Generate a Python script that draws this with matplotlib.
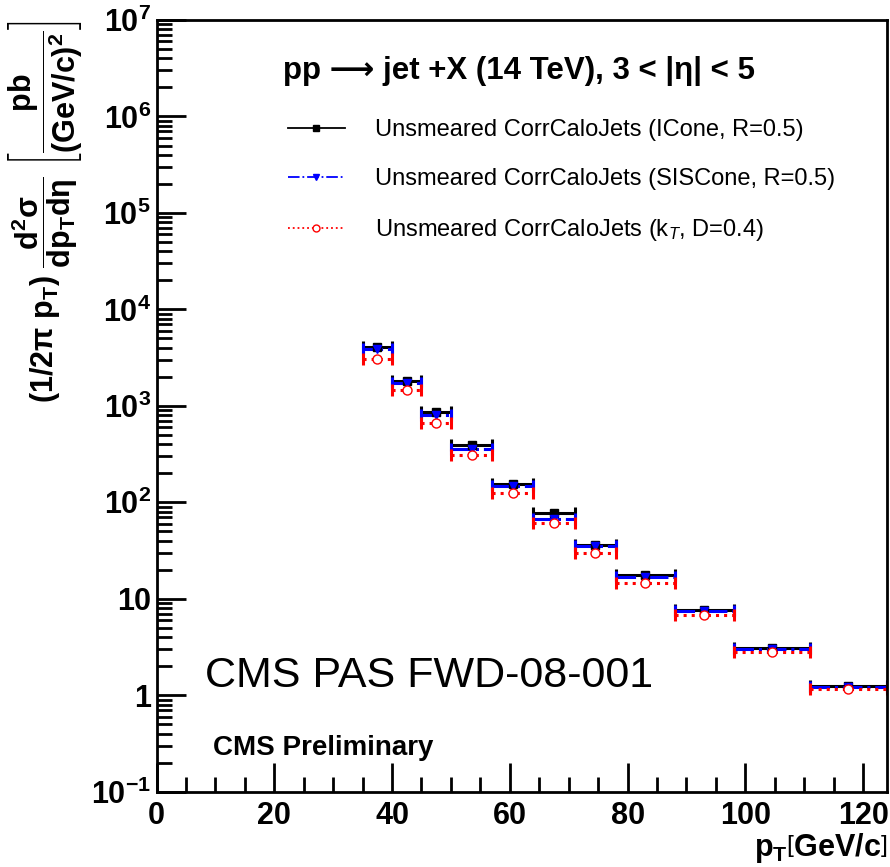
import numpy as np
import matplotlib
matplotlib.use("Agg")
import matplotlib.pyplot as plt
from matplotlib.lines import Line2D

plt.rcParams["font.family"] = ["Liberation Sans", "DejaVu Sans"]
plt.rcParams["mathtext.fontset"] = "custom"
plt.rcParams["mathtext.rm"] = "Liberation Sans"
plt.rcParams["mathtext.bf"] = "Liberation Sans:bold"
plt.rcParams["mathtext.it"] = "Liberation Sans:italic"

# --- data -------------------------------------------------------------------
bin_edges = [35, 40, 45, 50, 57, 64, 71, 78, 88, 98, 111, 124]
icone = [4100, 1795, 863, 393, 154, 76.9, 36.3, 17.5, 7.64, 3.09, 1.25]
siscone = [3855, 1713, 809, 360, 148, 66.7, 35.0, 16.7, 7.41, 2.99, 1.22]
kt = [3035, 1460, 659, 307, 126, 61.5, 30.0, 14.7, 6.79, 2.81, 1.16]

labels = ["Unsmeared CorrCaloJets (ICone, R=0.5)",
          "Unsmeared CorrCaloJets (SISCone, R=0.5)",
          r"Unsmeared CorrCaloJets (k$_{T}$, D=0.4)"]
colors = ["black", "#0000ff", "#ff0000"]
markers = ["s", "v", "o"]
styles = ["-", "-.", ":"]

edges = np.array(bin_edges, dtype=float)
centres = 0.5 * (edges[:-1] + edges[1:])
half = 0.5 * (edges[1:] - edges[:-1])

fig = plt.figure(figsize=(8.9, 8.67), dpi=100)
ax = fig.add_axes([156.5 / 890, 1 - 791.7 / 867, (886.7 - 156.5) / 890, (791.7 - 20) / 867])

handles = []
for ys, c, m, ls in zip([icone, siscone, kt], colors, markers, styles):
    mfc = "white" if m == "o" else c
    eb = ax.errorbar(centres, ys, xerr=half, fmt=m, color=c, mfc=mfc, mec=c,
                     ms=5.5 if m != "o" else 6.5, ecolor=c, elinewidth=2.2,
                     capsize=4.5, capthick=2.2, linestyle="none")
    eb[2][0].set_linestyle(ls)
    handles.append(Line2D([], [], color=c, ls=ls, lw=1.3, marker=m, mfc=mfc,
                          mec=c, ms=5))

ax.set_yscale("log")
ax.set_xlim(0, 124)
ax.set_ylim(1e-1, 1e7)

ax.set_xticks(np.arange(0, 121, 20))
ax.set_xticks(np.arange(0, 124, 5), minor=True)
ax.set_xticklabels([str(v) for v in range(0, 121, 20)])
ydec = [1e-1, 1, 10, 1e2, 1e3, 1e4, 1e5, 1e6, 1e7]
ylab = [r"$\mathbf{10^{-1}}$", "1", "10", r"$\mathbf{10^{2}}$", r"$\mathbf{10^{3}}$",
        r"$\mathbf{10^{4}}$", r"$\mathbf{10^{5}}$", r"$\mathbf{10^{6}}$", r"$\mathbf{10^{7}}$"]
ax.set_yticks(ydec)
ax.set_yticklabels(ylab)
ax.yaxis.set_minor_locator(matplotlib.ticker.LogLocator(base=10, subs=np.arange(2, 10), numticks=20))
ax.yaxis.set_minor_formatter(matplotlib.ticker.NullFormatter())

ax.tick_params(which="both", direction="in", top=False, right=False, width=2)
ax.tick_params(which="major", length=21, labelsize=22, pad=4)
ax.tick_params(which="minor", length=11)
ax.tick_params(axis="x", which="major", pad=7)
for lb in ax.get_xticklabels() + ax.get_yticklabels():
    lb.set_fontweight("bold")
for s in ax.spines.values():
    s.set_linewidth(2)

ax.set_xlabel(r"$\mathbf{p_{T}}\left[\mathbf{GeV/c}\right]$", fontsize=22,
              loc="right", labelpad=0)
ax.set_ylabel(r"$\mathbf{(1/2\pi\ p_{T})\ \dfrac{d^{2}\sigma}{dp_{T}d\eta}}\ \left[\mathbf{\dfrac{pb}{(GeV/c)^{2}}}\right]$",
              fontsize=22, loc="top", labelpad=5)

fig.text(283 / 890, 1 - 79 / 867, "pp \u27f6 jet +X (14 TeV), 3 < |\u03b7| < 5",
         fontsize=22.5, fontweight="bold", family=["Liberation Sans", "DejaVu Sans"])
ax.legend(handles, labels, loc="upper left", bbox_to_anchor=(288 / 890, 1 - 119 / 867),
          bbox_transform=fig.transFigure, frameon=False, fontsize=17,
          handlelength=2.4, handletextpad=1.3, labelspacing=1.15,
          borderpad=0, borderaxespad=0)

fig.text(205 / 890, 1 - 687 / 867, "CMS PAS FWD-08-001", fontsize=31)
fig.text(213 / 890, 1 - 755 / 867, "CMS Preliminary", fontsize=20, fontweight="bold")

fig.savefig("out.png", dpi=100)
